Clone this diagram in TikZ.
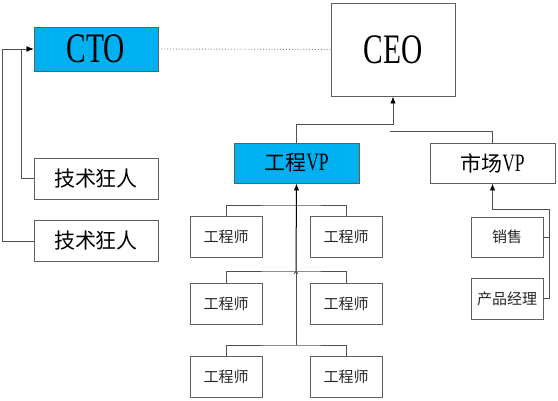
\documentclass[tikz,border=0pt]{standalone}
\usepackage{fontspec}
\newfontfamily\cjk{Noto Sans CJK SC}
\newfontfamily\lat[FakeStretch=0.7]{Liberation Serif}
\usetikzlibrary{arrows.meta}
\definecolor{cyanfill}{RGB}{0,176,240}
\definecolor{linegray}{RGB}{80,80,80}
\definecolor{boxgray}{RGB}{95,95,95}
\tikzset{
  box/.style={draw=boxgray, line width=0.9pt, fill=white, inner sep=0pt, align=center, text=black},
  hi/.style={box, fill=cyanfill, draw=boxgray},
  big/.style={box, minimum width=124pt},
  eng/.style={box, minimum width=72pt, minimum height=41pt, font=\cjk\fontsize{15}{18}\selectfont, text=black!85},
  conn/.style={draw=linegray, line width=0.9pt},
  arr/.style={conn, -{Latex[length=7pt,width=5.5pt,black]}},
  tinyarr/.style={conn, -{Straight Barb[length=2pt,width=4pt]}},
  darkarr/.style={draw=black, line width=1pt, -{Latex[length=7pt,width=5.5pt,black]}},
}
\begin{document}
\begin{tikzpicture}[x=1pt,y=-1pt]
\useasboundingbox[fill=white] (0,0) rectangle (558,400);

% top level
\node[hi, minimum width=124pt, minimum height=44pt, font=\lat\fontsize{42}{44}\selectfont] (cto) at (96,49) {CTO};
\node[box, minimum width=124pt, minimum height=93pt, font=\lat\fontsize{42}{44}\selectfont] (ceo) at (393,49.5) {CEO};
\draw[conn, dotted, draw=gray] (cto.east) -- (ceo.west);

% VPs
\node[hi, minimum width=125pt, minimum height=40pt] (vp) at (296.5,163) {{\cjk\fontsize{21}{24}\selectfont 工程}{\lat\fontsize{25}{26}\selectfont VP}};
\node[box, minimum width=125pt, minimum height=40pt] (mvp) at (492.5,163) {{\cjk\fontsize{21}{24}\selectfont 市场}{\lat\fontsize{25}{26}\selectfont VP}};

\coordinate (ceojoin) at (393,124);
\draw[arr] (vp.north) |- (ceojoin) -- (ceo.south);
\coordinate (mvpfree) at (390,131);
\draw[conn] (mvpfree) -| (mvp.north);

% tech people
\node[big, minimum height=41pt, font=\cjk\fontsize{21}{24}\selectfont] (tech1) at (96,178.5) {技术狂人};
\node[big, minimum height=41pt, font=\cjk\fontsize{21}{24}\selectfont] (tech2) at (96,241) {技术狂人};
\draw[arr] (tech1.west) -- ++(-12,0) |- (cto.west);
\draw[arr] (tech2.west) -- ++(-31,0) |- (cto.west);

% engineers
\node[eng] (e11) at (226,236.5) {工程师};
\node[eng] (e12) at (346,236.5) {工程师};
\node[eng] (e21) at (226,303.5) {工程师};
\node[eng] (e22) at (346,303.5) {工程师};
\node[eng] (e31) at (226,377) {工程师};
\node[eng] (e32) at (346,377) {工程师};
\coordinate (t1) at (296,205);
\coordinate (t2) at (296,271);
\coordinate (t3) at (296,345);
\draw[conn] (e11.north) |- (t1) -| (e12.north);
\draw[conn] (e21.north) |- (t2) -| (e22.north);
\draw[conn] (e31.north) |- (t3) -| (e32.north);
\draw[tinyarr] (t3) -- (t2);
\draw[darkarr] (t2) -- (vp.south);

% sales
\node[eng, minimum height=40pt] (sales) at (507,237) {销售};
\node[eng] (pm) at (507,298.5) {产品经理};
\coordinate (sj) at (549,209);
\draw[conn] (sales.east) -- (sales.east -| sj);
\draw[arr] (pm.east) -| (sj) -| (mvp.south);
\end{tikzpicture}
\end{document}
